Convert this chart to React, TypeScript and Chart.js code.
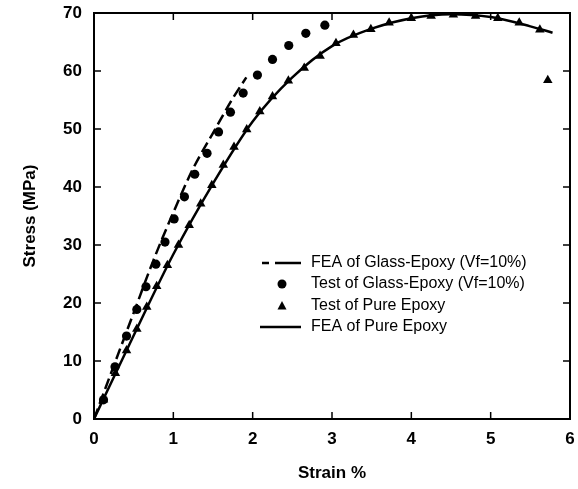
import React, { useEffect, useRef } from "react";
import { Chart, registerables } from "chart.js";

Chart.register(...registerables);

// FEA of Glass-Epoxy (Vf=10%) - dashed line
const feaGlassStrain = [0, 0.25, 0.5, 0.75, 1.0, 1.25, 1.5, 1.75, 1.92];
const feaGlassStress = [0, 9.2, 18.3, 27.4, 35.6, 43.2, 49.3, 55.3, 58.9];

// Test of Glass-Epoxy (Vf=10%) - circles
const testGlassStrain = [0.12, 0.265, 0.41, 0.54, 0.655, 0.78, 0.895, 1.01, 1.14, 1.27, 1.425, 1.57, 1.72, 1.88, 2.06, 2.25, 2.455, 2.67, 2.91];
const testGlassStress = [3.3, 9.0, 14.3, 18.9, 22.8, 26.7, 30.5, 34.5, 38.3, 42.2, 45.8, 49.5, 52.9, 56.2, 59.3, 62.0, 64.4, 66.5, 67.9];

// Test of Pure Epoxy - triangles
const testPureStrain = [0.12, 0.27, 0.41, 0.54, 0.665, 0.79, 0.925, 1.065, 1.2, 1.345, 1.485, 1.63, 1.765, 1.925, 2.09, 2.25, 2.45, 2.65, 2.85, 3.05, 3.27, 3.49, 3.72, 4.0, 4.25, 4.53, 4.81, 5.09, 5.36, 5.62, 5.72];
const testPureStress = [3.3, 7.9, 11.8, 15.5, 19.3, 22.9, 26.5, 30.0, 33.4, 37.1, 40.3, 43.8, 46.9, 49.9, 53.0, 55.6, 58.3, 60.5, 62.6, 64.8, 66.2, 67.2, 68.3, 69.1, 69.5, 69.7, 69.5, 69.1, 68.3, 67.1, 58.4];

// FEA of Pure Epoxy - solid line
const feaPureStrain = [0, 0.5, 1.0, 1.5, 2.0, 2.5, 3.0, 3.5, 4.0, 4.5, 5.0, 5.5, 5.78];
const feaPureStress = [0, 14.4, 28.4, 40.6, 51.3, 58.9, 64.3, 67.3, 69.1, 69.8, 69.3, 67.7, 66.6];

const xTicks = [0, 1, 2, 3, 4, 5, 6];
const yTicks = [0, 10, 20, 30, 40, 50, 60, 70];

const legendLabels = [
  "FEA of Glass-Epoxy (Vf=10%)",
  "Test of Glass-Epoxy (Vf=10%)",
  "Test of Pure Epoxy",
  "FEA of Pure Epoxy",
];

const pts = (xs: number[], ys: number[]) => xs.map((x, i) => ({ x, y: ys[i] }));

const FONT = "'Liberation Sans', Arial, Helvetica, sans-serif";

const framePlugin = {
  id: "frameAndLegend",
  afterDraw(chart: any) {
    const { ctx, chartArea, scales } = chart;
    const { left, right, top, bottom } = chartArea;
    const xs = scales.x;
    const ys = scales.y;
    ctx.save();
    ctx.strokeStyle = "#000";
    ctx.lineWidth = 2;
    ctx.strokeRect(left, top, right - left, bottom - top);
    ctx.lineWidth = 1.5;
    const tl = 7;
    ctx.beginPath();
    xTicks.forEach((v) => {
      const px = xs.getPixelForValue(v);
      ctx.moveTo(px, bottom);
      ctx.lineTo(px, bottom - tl);
      ctx.moveTo(px, top);
      ctx.lineTo(px, top + tl);
    });
    yTicks.forEach((v) => {
      const py = ys.getPixelForValue(v);
      ctx.moveTo(left, py);
      ctx.lineTo(left + tl, py);
      ctx.moveTo(right, py);
      ctx.lineTo(right - tl, py);
    });
    ctx.stroke();

    // legend
    const rowY = [263, 284, 306, 327];
    const textX = 311;
    ctx.font = `16px ${FONT}`;
    ctx.fillStyle = "#000";
    ctx.textBaseline = "middle";
    ctx.textAlign = "left";
    legendLabels.forEach((t, i) => ctx.fillText(t, textX, rowY[i]));

    ctx.lineWidth = 2.5;
    // dashed sample
    ctx.beginPath();
    ctx.moveTo(262, rowY[0]);
    ctx.lineTo(269, rowY[0]);
    ctx.moveTo(275, rowY[0]);
    ctx.lineTo(301, rowY[0]);
    ctx.stroke();
    // circle
    ctx.beginPath();
    ctx.arc(282, rowY[1], 4.5, 0, Math.PI * 2);
    ctx.fill();
    // triangle
    ctx.beginPath();
    ctx.moveTo(282, rowY[2] - 5);
    ctx.lineTo(286.5, rowY[2] + 3.5);
    ctx.lineTo(277.5, rowY[2] + 3.5);
    ctx.closePath();
    ctx.fill();
    // solid
    ctx.beginPath();
    ctx.moveTo(260, rowY[3]);
    ctx.lineTo(301, rowY[3]);
    ctx.stroke();
    ctx.restore();
  },
};

export default function App() {
  const ref = useRef<HTMLCanvasElement>(null);
  useEffect(() => {
    document.body.style.margin = "0";
    const canvas = ref.current!;
    const chart = new Chart(canvas, {
      type: "scatter",
      data: {
        datasets: [
          {
            label: legendLabels[0],
            data: pts(feaGlassStrain, feaGlassStress),
            showLine: true,
            borderColor: "#000",
            borderWidth: 2.5,
            borderDash: [11, 5],
            pointRadius: 0,
            cubicInterpolationMode: "monotone",
            order: 2,
          },
          {
            label: legendLabels[1],
            data: pts(testGlassStrain, testGlassStress),
            showLine: false,
            pointStyle: "circle",
            pointRadius: 4.6,
            backgroundColor: "#000",
            borderColor: "#000",
            borderWidth: 0,
            order: 0,
          },
          {
            label: legendLabels[2],
            data: pts(testPureStrain, testPureStress),
            showLine: false,
            pointStyle: "triangle",
            pointRadius: 5.5,
            backgroundColor: "#000",
            borderColor: "#000",
            borderWidth: 0,
            order: 0,
          },
          {
            label: legendLabels[3],
            data: pts(feaPureStrain, feaPureStress),
            showLine: true,
            borderColor: "#000",
            borderWidth: 2.5,
            pointRadius: 0,
            cubicInterpolationMode: "monotone",
            order: 1,
          },
        ],
      },
      options: {
        animation: false,
        responsive: false,
        maintainAspectRatio: false,
        layout: { padding: { left: 0, top: 13, right: 8, bottom: 0 } },
        plugins: { legend: { display: false }, tooltip: { enabled: false } },
        scales: {
          x: {
            type: "linear",
            min: 0,
            max: 6,
            afterFit: (s: any) => {
              s.height = 70;
              s.paddingLeft = 0;
              s.paddingRight = 0;
            },
            grid: { display: false, drawTicks: false },
            border: { display: false },
            ticks: {
              stepSize: 1,
              padding: 10,
              color: "#000",
              font: { family: FONT, size: 17, weight: "bold" },
            },
            title: {
              display: true,
              text: "Strain %",
              color: "#000",
              font: { family: FONT, size: 17, weight: "bold" },
              padding: { top: 0, bottom: 5 },
            },
          },
          y: {
            type: "linear",
            min: 0,
            max: 70,
            afterFit: (s: any) => {
              s.width = 94;
              s.paddingTop = 0;
              s.paddingBottom = 0;
            },
            grid: { display: false, drawTicks: false },
            border: { display: false },
            ticks: {
              stepSize: 10,
              padding: 12,
              color: "#000",
              font: { family: FONT, size: 17, weight: "bold" },
            },
            title: {
              display: true,
              text: "Stress (MPa)",
              color: "#000",
              font: { family: FONT, size: 17, weight: "bold" },
              padding: { top: 20, bottom: 0 },
            },
          },
        },
      },
      plugins: [framePlugin],
    });
    return () => chart.destroy();
  }, []);
  return <canvas ref={ref} width={578} height={489} style={{ display: "block" }} />;
}
